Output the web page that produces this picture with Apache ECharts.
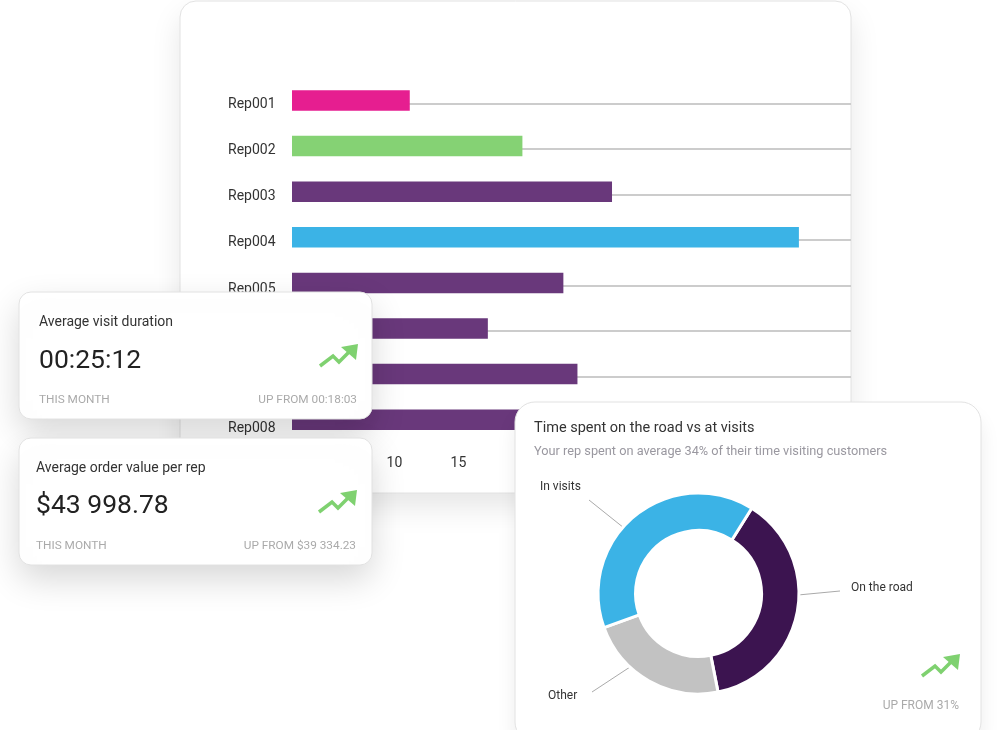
<!DOCTYPE html>
<html>
<head>
<meta charset="utf-8">
<title>Rep dashboard</title>
<script src="https://cdn.jsdelivr.net/npm/echarts@6/dist/echarts.min.js"></script>
<style>
  html, body { margin: 0; padding: 0; background: #fff; }
  #chart { width: 1000px; height: 730px; }
</style>
</head>
<body>
<div id="chart"></div>
<script>
const reps = ["Rep001", "Rep002", "Rep003", "Rep004", "Rep005", "Rep006", "Rep007", "Rep008"];
const repValues = [11.2, 20, 27, 41.6, 23.2, 17.3, 24.3, 26];
const repColors = ["#e61e90", "#85d274", "#69387b", "#3bb3e6", "#69387b", "#69387b", "#69387b", "#69387b"];
const xTicks = [5, 10, 15, 20, 25, 30, 35, 40, 45];

const donutNames = ["On the road", "Other", "In visits"];
const donutValues = [38, 22.6, 39.4];
const donutColors = ["#3c1450", "#c2c2c2", "#3bb3e6"];

const FONT = "Roboto, sans-serif";
const GREEN = "#7fd170";

// 卡片
function card(x, y, w, h, r, z, shadow, alpha) {
  return {
    type: "rect",
    z: z,
    shape: { x: x, y: y, width: w, height: h, r: r },
    style: {
      fill: "#fff",
      stroke: "#e2e2e2",
      lineWidth: 1,
      shadowBlur: shadow,
      shadowOffsetY: 14,
      shadowColor: "rgba(0, 0, 0, " + alpha + ")"
    }
  };
}

function label(text, x, y, size, color, z, align) {
  return {
    type: "text",
    z: z,
    style: {
      text: text,
      x: x,
      y: y,
      fill: color,
      font: size + "px " + FONT,
      textAlign: align || "left",
      textVerticalAlign: "middle"
    }
  };
}

// 绿色上升箭头，(x, y) 为箭头尖
function arrow(x, y, z) {
  return [
    {
      type: "polyline",
      z: z,
      shape: { points: [[x - 38, y + 22], [x - 25, y + 12], [x - 19, y + 18], [x - 7, y + 6]] },
      style: { stroke: GREEN, lineWidth: 3.5, fill: null }
    },
    {
      type: "polygon",
      z: z,
      shape: { points: [[x - 17, y + 3], [x, y], [x - 2, y + 16]] },
      style: { fill: GREEN }
    }
  ];
}

const graphics = [
  card(180, 1, 671, 492, 16, -1, 30, 0.1),
  card(19, 292, 353, 127, 12, 5, 34, 0.16),
  label("Average visit duration", 39, 322, 14, "#333", 6),
  label("00:25:12", 39, 361, 26.5, "#222", 6),
  label("THIS MONTH", 39, 400, 11.8, "#aaa", 6),
  label("UP FROM 00:18:03", 357, 400, 11.8, "#aaa", 6, "right"),
  ...arrow(358, 344, 6),
  card(19, 438, 353, 127, 12, 7, 34, 0.16),
  label("Average order value per rep", 36, 468, 14, "#333", 8),
  label("$43 998.78", 36, 506, 26.5, "#222", 8),
  label("THIS MONTH", 36, 546, 11.8, "#aaa", 8),
  label("UP FROM $39 334.23", 356, 546, 11.8, "#aaa", 8, "right"),
  ...arrow(357, 490, 8),
  card(515, 402, 466, 340, 20, 9, 20, 0.08),
  label("Time spent on the road vs at visits", 534, 428, 14.5, "#333", 10),
  label("Your rep spent on average 34% of their time visiting customers", 534, 452, 12.75, "#9a98a0", 10),
  label("UP FROM 31%", 959, 706, 12, "#aaa", 10, "right"),
  ...arrow(960, 654, 10)
];

// 环形图标签的位置
const donutLabels = [
  { x: 851, y: 588, line: [[798, 595], [840, 591], [840, 591]] },
  { x: 548, y: 696, line: [[630, 667], [592, 692], [592, 692]] },
  { x: 540, y: 487, line: [[624, 528], [589, 500], [589, 500]] }
];

const option = {
  animation: false,
  textStyle: { fontFamily: FONT },
  graphic: { elements: graphics },
  grid: [
    { left: 292, right: 149, top: 77.7, height: 364.8 }, // 柱
    { left: 292, right: 149, top: 103.5, height: 318.5 }, // 网格线
    { left: 267, right: 149, top: 104, height: 324 } // Rep标签
  ],
  xAxis: [
    {
      type: "value",
      gridIndex: 0,
      min: 2,
      max: 45.67,
      axisLine: { show: false },
      axisTick: { show: false },
      splitLine: { show: false },
      axisLabel: {
        customValues: xTicks,
        margin: 14,
        fontSize: 14,
        color: "#333"
      }
    },
    { type: "value", gridIndex: 1, show: false, min: 0, max: 1 },
    { type: "value", gridIndex: 2, show: false, min: 0, max: 1 }
  ],
  yAxis: [
    {
      type: "category",
      gridIndex: 0,
      inverse: true,
      data: reps,
      axisLine: { show: false },
      axisTick: { show: false },
      axisLabel: { show: false }
    },
    {
      type: "category",
      gridIndex: 1,
      inverse: true,
      boundaryGap: false,
      data: reps,
      axisLine: { show: false },
      axisTick: { show: false },
      axisLabel: { show: false },
      splitLine: { show: true, lineStyle: { color: "#cccccc", width: 2 } }
    },
    {
      type: "category",
      gridIndex: 2,
      inverse: true,
      boundaryGap: false,
      data: reps,
      axisLine: { show: false },
      axisTick: { show: false },
      splitLine: { show: false },
      axisLabel: {
        align: "left",
        margin: 39,
        fontSize: 14,
        color: "#333"
      }
    }
  ],
  series: [
    {
      type: "bar",
      z: 2,
      xAxisIndex: 0,
      yAxisIndex: 0,
      barWidth: 20.5,
      data: repValues.map((v, i) => ({ value: v, itemStyle: { color: repColors[i] } }))
    },
    {
      type: "pie",
      z: 12,
      center: [698.5, 593.5],
      radius: [63, 100.5],
      startAngle: 58,
      itemStyle: { borderColor: "#fff", borderWidth: 3 },
      data: donutNames.map((n, i) => ({ name: n, value: donutValues[i], itemStyle: { color: donutColors[i] } })),
      label: { show: true, formatter: "{b}", fontSize: 12, color: "#333" },
      labelLine: { show: true, lineStyle: { color: "#aaa", width: 1 } },
      labelLayout: function(params) {
        const l = donutLabels[params.dataIndex];
        return { x: l.x, y: l.y, align: "left", verticalAlign: "middle", labelLinePoints: l.line };
      }
    }
  ]
};

const em = echarts.init(document.getElementById("chart"), null, { renderer: "canvas" });
em.setOption(option);
</script>
</body>
</html>
